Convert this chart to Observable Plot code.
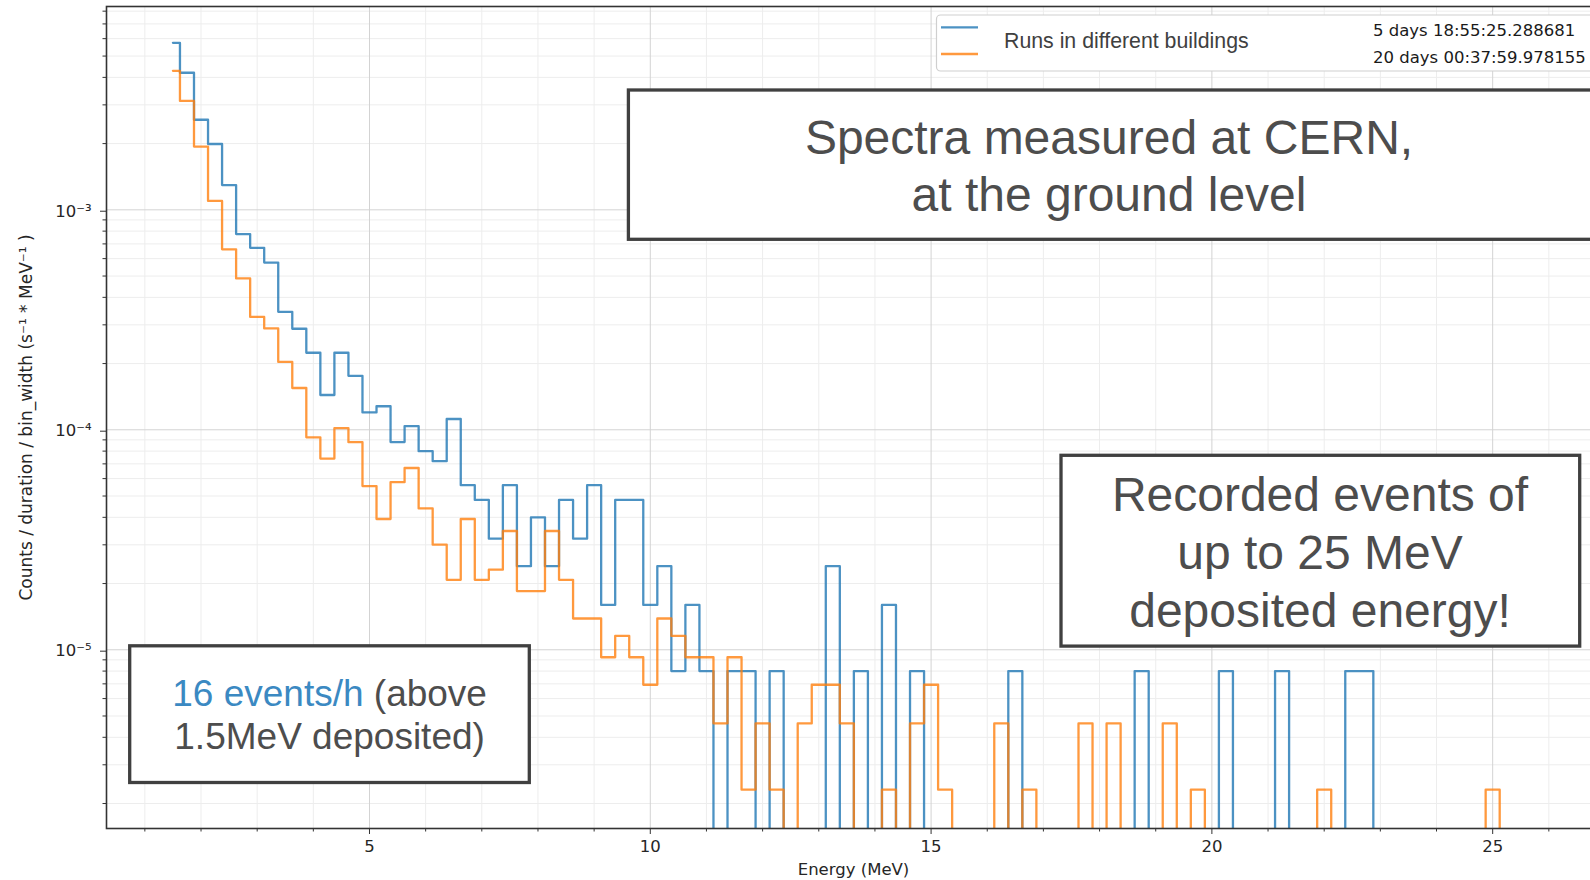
<!DOCTYPE html>
<html>
<head>
<meta charset="utf-8">
<script src="https://cdn.jsdelivr.net/npm/d3@7"></script>
<script src="https://cdn.jsdelivr.net/npm/@observablehq/plot@0.6"></script>
<style>
  html, body { margin: 0; padding: 0; background: #fff; overflow: hidden; }
  #wrap { position: relative; width: 1590px; height: 880px; overflow: hidden; background: #fff; }
  #chart { position: absolute; left: 0; top: 0; width: 1600px; height: 880px; }
  #chart svg { max-width: none !important; width: 1600px !important; height: 880px !important; }
  #overlay { position: absolute; left: 0; top: 0; pointer-events: none; }
</style>
</head>
<body>
<div id="wrap"><div id="chart"></div><svg id="overlay" width="1590" height="880"></svg></div>
<script>
// ---------------- data ----------------
const binStart = 1.5;      // MeV, centre of first bin
const binWidth = 0.25;     // MeV
const seriesNames = ["Runs in different buildings", ""];
const durationLabels = ["5 days 18:55:25.288681", "20 days 00:37:59.978155"];
const durationSeconds = [500125.288681, 1730279.978155];
const seriesColors = ["#1f77b4", "#ff7f0e"];

// counts per 0.25 MeV bin
const blueCounts = [718,525,321,249,162,97,84,72,43,36,
  28,18,28,22,15,16,11,13,10,9,
  14,7,6,4,7,3,5,3,6,4,
  7,2,6,6,2,3,1,2,1,0,
  1,1,0,1,0,0,0,3,0,1,
  0,2,0,1,0,0,0,0,0,0,
  1,0,0,0,0,0,0,0,0,1,
  0,0,0,0,0,1,0,0,0,1,
  0,0,0,0,1,1,0,0,0,0,
  0,0,0,0,0,0];
const orangeCounts = [1853,1353,839,475,286,211,141,125,88,67,
  40,32,44,38,24,17,25,29,19,13,
  9,17,9,10,15,8,8,15,9,6,
  6,4,5,4,3,6,5,4,4,2,
  4,1,2,1,0,2,3,3,2,0,
  0,1,0,2,3,1,0,0,0,2,
  0,1,0,0,0,2,0,2,0,0,
  0,2,0,1,0,0,0,0,0,0,
  0,0,1,0,0,0,0,0,0,0,
  0,0,0,0,1,0];

const xMajorTicks = [5, 10, 15, 20, 25];
const xMinorTicks = [1,2,3,4,6,7,8,9,11,12,13,14,16,17,18,19,21,22,23,24,26];
const yMajorTicks = [1e-5, 1e-4, 1e-3];
const yMinorMantissas = [2,3,4,5,6,7,8,9];
const yMinorExponents = [-6,-5,-4,-3];

// ---------------- build ----------------
const xDomain = [0.317, 26.92];
const yDomain = [1.54e-6, 8.4e-3];
const zeroFloor = 1e-9; // empty bins fall off the log axis (clipped)

function rows(counts, duration) {
  return counts.map((c, i) => ({E: binStart + i * binWidth, rate: c / duration / binWidth}));
}
const blueRows = rows(blueCounts, durationSeconds[0]);
const orangeRows = rows(orangeCounts, durationSeconds[1]);

const yMinorTicks = [];
for (const e of yMinorExponents) for (const m of yMinorMantissas) {
  const v = m * Math.pow(10, e);
  if (v > yDomain[0] && v < yDomain[1]) yMinorTicks.push(v);
}
const supMap = {"-": "\u207B", "0": "\u2070", "1": "\u00B9", "2": "\u00B2", "3": "\u00B3", "4": "\u2074", "5": "\u2075", "6": "\u2076", "7": "\u2077", "8": "\u2078", "9": "\u2079"};
const powFmt = d => "10" + String(Math.round(Math.log10(d))).split("").map(c => supMap[c]).join("");

const lineOpts = (color) => ({
  x: "E", y: d => d.rate > 0 ? d.rate : zeroFloor,
  curve: "step", stroke: color, strokeOpacity: 0.8, strokeWidth: 2.3, clip: true
});

const chart = Plot.plot({
  width: 1600, height: 880,
  marginLeft: 106, marginRight: 0, marginTop: 6, marginBottom: 52,
  style: {fontFamily: "DejaVu Sans", fontSize: "16.5px", color: "#262626", background: "white", maxWidth: "none"},
  x: {domain: xDomain, label: null},
  y: {type: "log", domain: yDomain, label: null},
  marks: [
    Plot.gridX(xMinorTicks, {stroke: "#ededed", strokeOpacity: 1, strokeWidth: 1}),
    Plot.gridY(yMinorTicks, {stroke: "#ededed", strokeOpacity: 1, strokeWidth: 1}),
    Plot.gridX(xMajorTicks, {stroke: "#d3d3d3", strokeOpacity: 1, strokeWidth: 1}),
    Plot.gridY(yMajorTicks, {stroke: "#d3d3d3", strokeOpacity: 1, strokeWidth: 1}),
    Plot.axisX(xMinorTicks, {tickSize: 3.5, tickFormat: () => "", label: null, stroke: "#333"}),
    Plot.axisX(xMajorTicks, {tickSize: 6, tickPadding: 6, tickFormat: d => String(d), label: null, stroke: "#333"}),
    Plot.axisY(yMinorTicks, {tickSize: 3.5, tickFormat: () => "", label: null, stroke: "#333"}),
    Plot.axisY(yMajorTicks, {tickSize: 6, tickPadding: 9, tickFormat: powFmt, label: null, dy: 1.4, stroke: "#333"}),
    Plot.line(blueRows, lineOpts(seriesColors[0])),
    Plot.line(orangeRows, lineOpts(seriesColors[1])),
    Plot.frame({stroke: "#333", strokeWidth: 1.6})
  ]
});
document.getElementById("chart").appendChild(chart);

// ---------------- overlay: titles, legend, annotation boxes ----------------
const ov = d3.select("#overlay");
const gray = "#4d4d4d";
const sans = "'Liberation Sans', Arial, sans-serif";

// axis titles
ov.append("text").attr("transform", "translate(32,417.5) rotate(-90)")
  .attr("text-anchor", "middle").attr("font-family", "DejaVu Sans").attr("font-size", 17)
  .attr("fill", "#262626").text("Counts / duration / bin_width (s\u207B\u00B9 * MeV\u207B\u00B9 )");
ov.append("text").attr("x", 853.5).attr("y", 875).attr("text-anchor", "middle")
  .attr("font-family", "DejaVu Sans").attr("font-size", 16.5).attr("fill", "#262626").text("Energy (MeV)");

// legend
ov.append("rect").attr("x", 936.5).attr("y", 15).attr("width", 700).attr("height", 56).attr("rx", 4)
  .attr("fill", "white").attr("stroke", "#cfcfcf").attr("stroke-width", 1.2);
[27.3, 54].forEach((y, i) => {
  ov.append("line").attr("x1", 941).attr("x2", 978).attr("y1", y).attr("y2", y)
    .attr("stroke", seriesColors[i]).attr("stroke-opacity", 0.8).attr("stroke-width", 2.3);
});
ov.append("text").attr("x", 1004).attr("y", 48.3).attr("font-family", sans).attr("font-size", 21.3)
  .attr("fill", "#404040").text(seriesNames[0]);
[35.7, 62.5].forEach((y, i) => {
  ov.append("text").attr("x", 1373).attr("y", y).attr("font-family", "DejaVu Sans").attr("font-size", 16.5)
    .attr("fill", "#1a1a1a").text(durationLabels[i]);
});

// annotation boxes
function box(x, y, w, h) {
  ov.append("rect").attr("x", x).attr("y", y).attr("width", w).attr("height", h)
    .attr("fill", "white").attr("stroke", "#404040").attr("stroke-width", 3.3);
}
function lines(cx, baselines, size, texts) {
  texts.forEach((t, i) => {
    ov.append("text").attr("x", cx).attr("y", baselines[i]).attr("text-anchor", "middle")
      .attr("font-family", sans).attr("font-size", size).attr("fill", gray).text(t);
  });
}
box(628.4, 90, 1100, 149.3);
lines(1109, [154, 211], 48, ["Spectra measured at CERN,", "at the ground level"]);

box(1061, 455.3, 518.7, 190.8);
lines(1320, [510.5, 568.5, 626.5], 48, ["Recorded events of", "up to 25 MeV", "deposited energy!"]);

box(129.7, 645.8, 399.6, 136.7);
const t1 = ov.append("text").attr("x", 329.6).attr("y", 705.5).attr("text-anchor", "middle")
  .attr("font-family", sans).attr("font-size", 37).attr("fill", gray);
t1.append("tspan").attr("fill", "#3b89c2").text("16 events/h");
t1.append("tspan").text(" (above");
lines(329.6, [749], 37, ["1.5MeV deposited)"]);
</script>
</body>
</html>
